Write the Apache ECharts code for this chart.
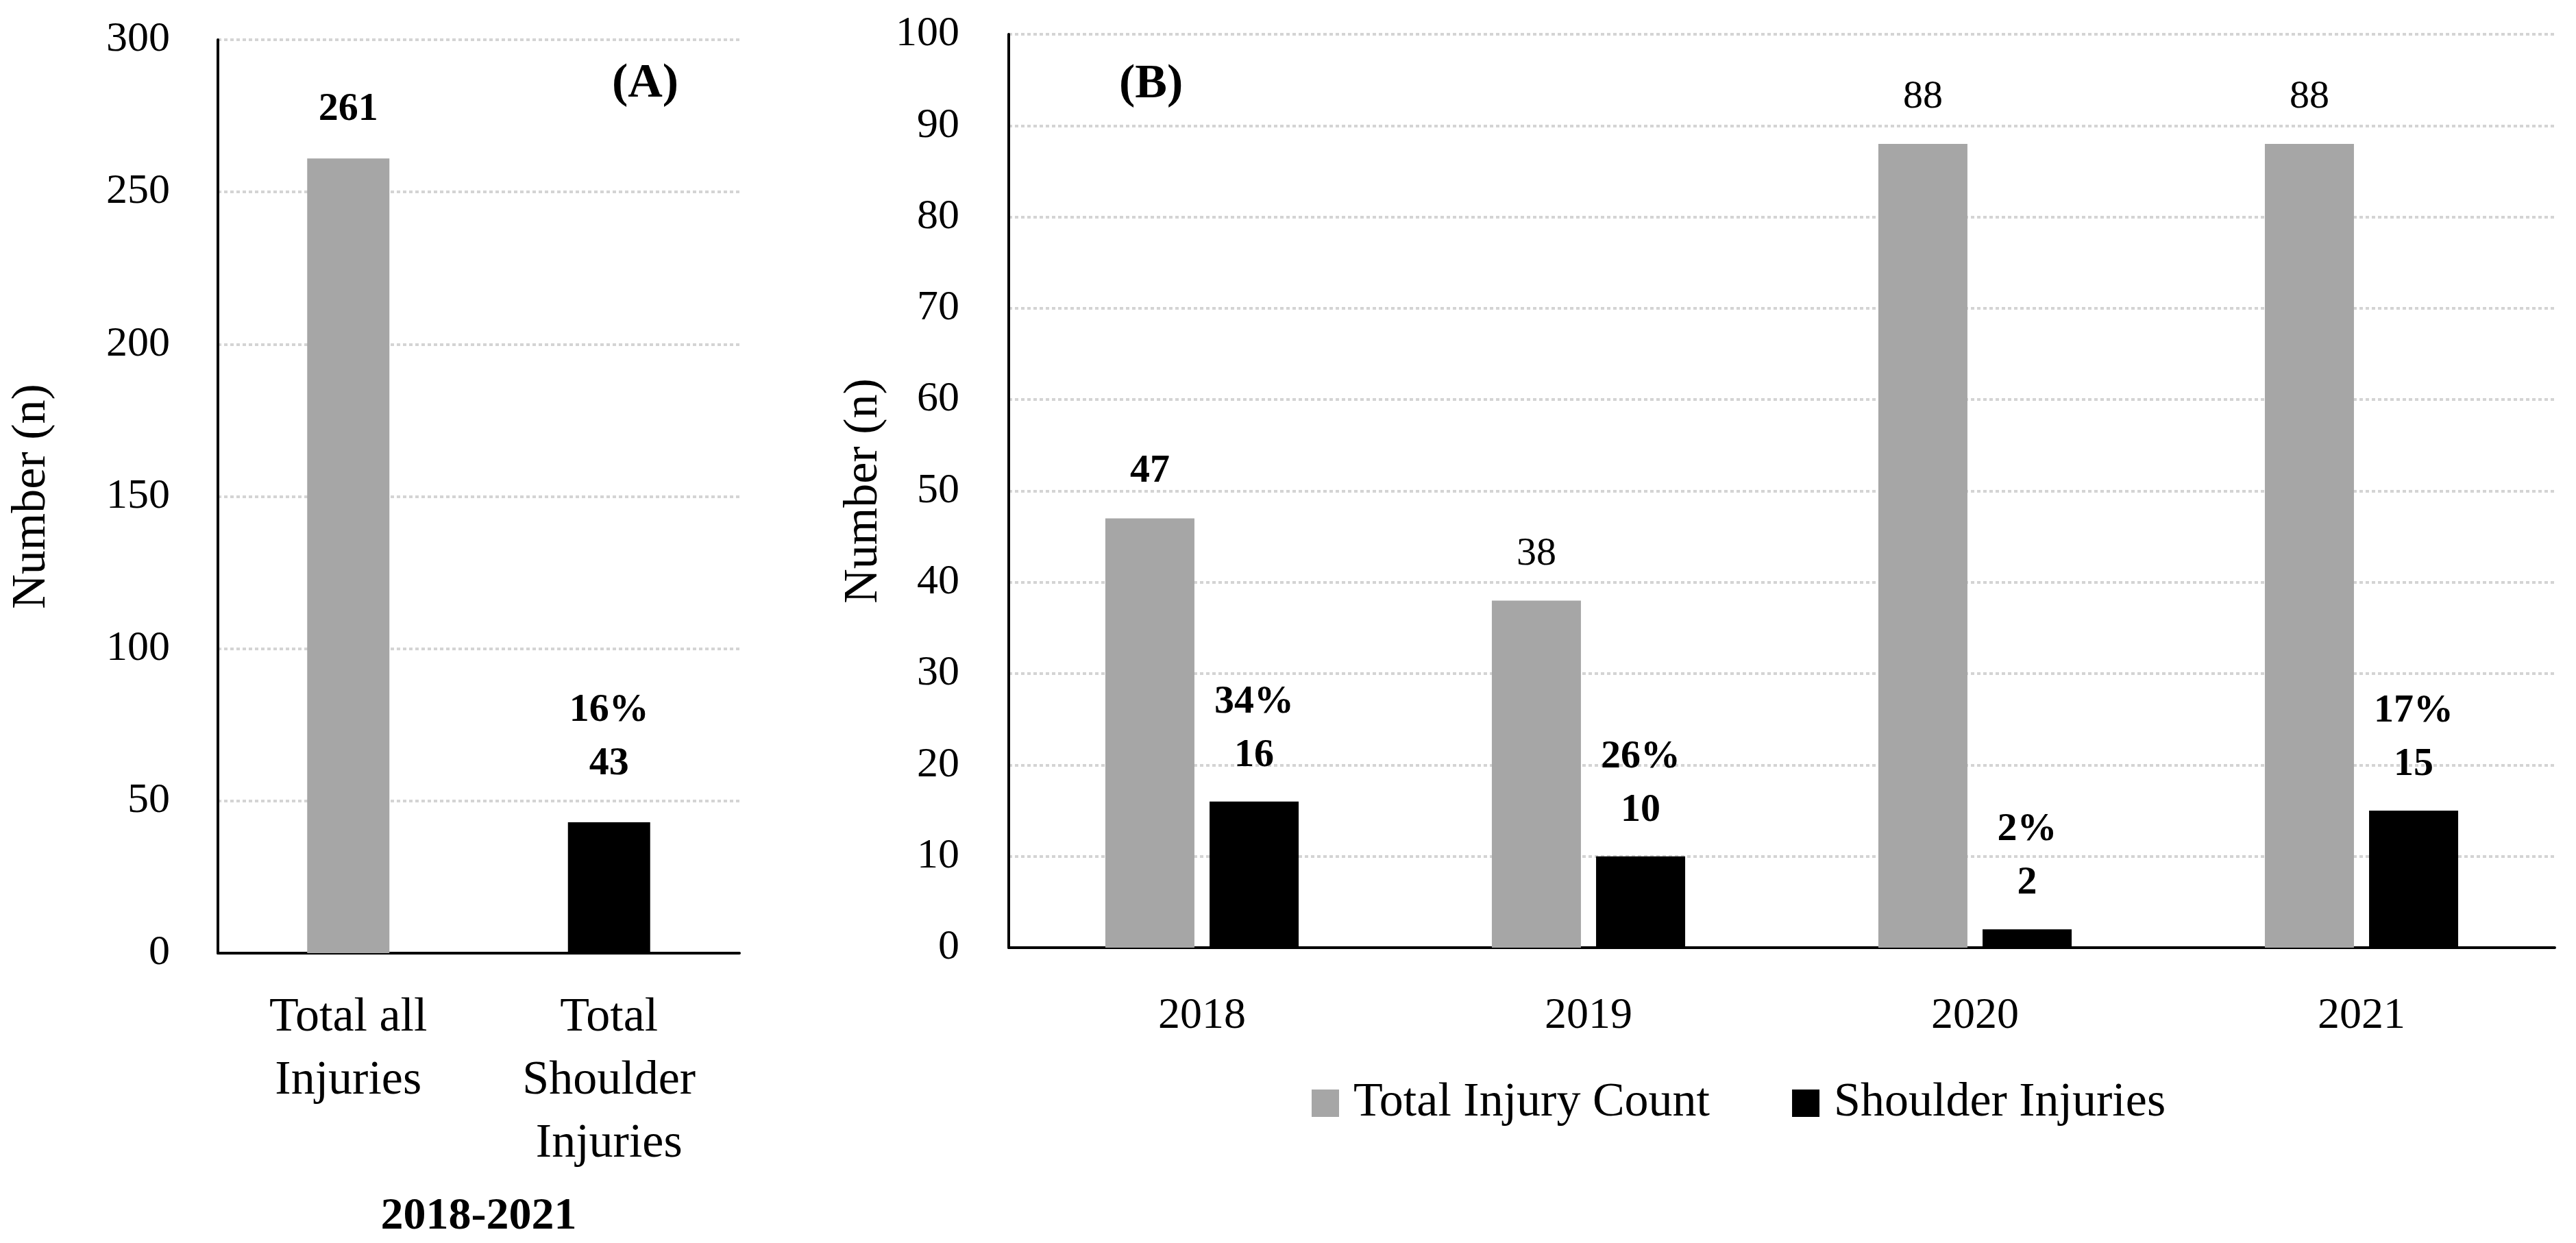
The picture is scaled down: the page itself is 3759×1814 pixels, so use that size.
<!DOCTYPE html>
<html>
<head>
<meta charset="utf-8">
<script src="https://cdn.jsdelivr.net/npm/echarts@6/dist/echarts.min.js"></script>
<style>
html,body{margin:0;padding:0;background:#fff;}
#chart{width:3759px;height:1814px;}
</style>
</head>
<body>
<div id="chart"></div>
<script>
// ---- Data ----
const panelACategories = ['Total all\nInjuries', 'Total\nShoulder\nInjuries'];
const panelAValues = [261, 43];
const panelAPct = ['', '16%'];
const panelAXName = '2018-2021';

const years = ['2018', '2019', '2020', '2021'];
const totalInjuryCount = [47, 38, 88, 88];
const shoulderInjuries = [16, 10, 2, 15];
const shoulderPct = ['34%', '26%', '2%', '17%'];

const seriesNames = ['Total Injury Count', 'Shoulder Injuries'];
const yAxisName = 'Number (n)';

// ---- Styles ----
const FONT = '"Liberation Serif", "Times New Roman", serif';
const GRAY = '#a6a6a6';
const BLACK = '#000000';
const gridLine = { show: true, lineStyle: { color: '#d4d4d4', width: 4, type: [5, 4] } };
const axisLine = { show: true, lineStyle: { color: '#000', width: 4 } };

const chart = echarts.init(document.getElementById('chart'));

const panelAData = panelAValues.map((v, i) => ({
  value: v,
  itemStyle: { color: i === 0 ? GRAY : BLACK },
  label: panelAPct[i] ? { distance: 46 } : { distance: 32 }
}));

const totalData = totalInjuryCount.map((v, i) => ({
  value: v,
  label: { fontWeight: i === 0 ? 'bold' : 'normal' }
}));

const option = {
  backgroundColor: '#fff',
  animation: false,
  textStyle: { fontFamily: FONT, color: '#000' },
  grid: [
    { left: 318, top: 58, width: 761, height: 1340, containLabel: false },
    { left: 1472, top: 50, width: 2256, height: 1333, containLabel: false }
  ],
  legend: {
    data: seriesNames,
    left: 1909,
    top: 1570,
    itemWidth: 40,
    itemHeight: 40,
    itemGap: 120,
    icon: 'rect',
    textStyle: { fontFamily: FONT, fontSize: 70, color: '#000', padding: [0, 0, 0, 16] }
  },
  xAxis: [
    {
      gridIndex: 0, type: 'category', data: panelACategories,
      axisLine: axisLine, axisTick: { show: false },
      axisLabel: { fontFamily: FONT, fontSize: 70, color: '#000', lineHeight: 92, margin: 49, interval: 0 },
      name: panelAXName, nameLocation: 'middle', nameGap: 352,
      nameTextStyle: { fontFamily: FONT, fontSize: 66, fontWeight: 'bold', color: '#000' }
    },
    {
      gridIndex: 1, type: 'category', data: years,
      axisLine: axisLine, axisTick: { show: false },
      axisLabel: { fontFamily: FONT, fontSize: 64, color: '#000', lineHeight: 80, margin: 60 }
    }
  ],
  yAxis: [
    {
      gridIndex: 0, type: 'value', min: 0, max: 300, interval: 50,
      axisLine: axisLine, axisTick: { show: false }, splitLine: gridLine,
      axisLabel: { fontFamily: FONT, fontSize: 62, color: '#000', margin: 70 },
      name: yAxisName, nameLocation: 'middle', nameGap: 236,
      nameTextStyle: { fontFamily: FONT, fontSize: 70, color: '#000' }
    },
    {
      gridIndex: 1, type: 'value', min: 0, max: 100, interval: 10,
      axisLine: axisLine, axisTick: { show: false }, splitLine: gridLine,
      axisLabel: { fontFamily: FONT, fontSize: 62, color: '#000', margin: 72 },
      name: yAxisName, nameLocation: 'middle', nameGap: 156,
      nameTextStyle: { fontFamily: FONT, fontSize: 70, color: '#000' }
    }
  ],
  series: [
    {
      type: 'bar', xAxisIndex: 0, yAxisIndex: 0, barWidth: 120,
      data: panelAData,
      label: {
        show: true, position: 'top', fontFamily: FONT, fontSize: 58, fontWeight: 'bold',
        color: '#000', lineHeight: 78,
        formatter: p => panelAPct[p.dataIndex] ? panelAPct[p.dataIndex] + '\n' + p.value : String(p.value)
      }
    },
    {
      name: seriesNames[0], type: 'bar', xAxisIndex: 1, yAxisIndex: 1,
      barWidth: 130, barGap: '17%',
      itemStyle: { color: GRAY },
      data: totalData,
      label: {
        show: true, position: 'top', distance: 33, fontFamily: FONT, fontSize: 58,
        color: '#000', lineHeight: 70
      }
    },
    {
      name: seriesNames[1], type: 'bar', xAxisIndex: 1, yAxisIndex: 1,
      barWidth: 130, barGap: '17%',
      itemStyle: { color: BLACK },
      data: shoulderInjuries,
      label: {
        show: true, position: 'top', distance: 28, fontFamily: FONT, fontSize: 58, fontWeight: 'bold',
        color: '#000', lineHeight: 78,
        formatter: p => shoulderPct[p.dataIndex] + '\n' + p.value
      }
    }
  ],
  graphic: [
    { type: 'text', left: 893, top: 88, style: { text: '(A)', font: 'bold 70px ' + FONT, fill: '#000' } },
    { type: 'text', left: 1633, top: 89, style: { text: '(B)', font: 'bold 70px ' + FONT, fill: '#000' } }
  ]
};

chart.setOption(option);
</script>
</body>
</html>
